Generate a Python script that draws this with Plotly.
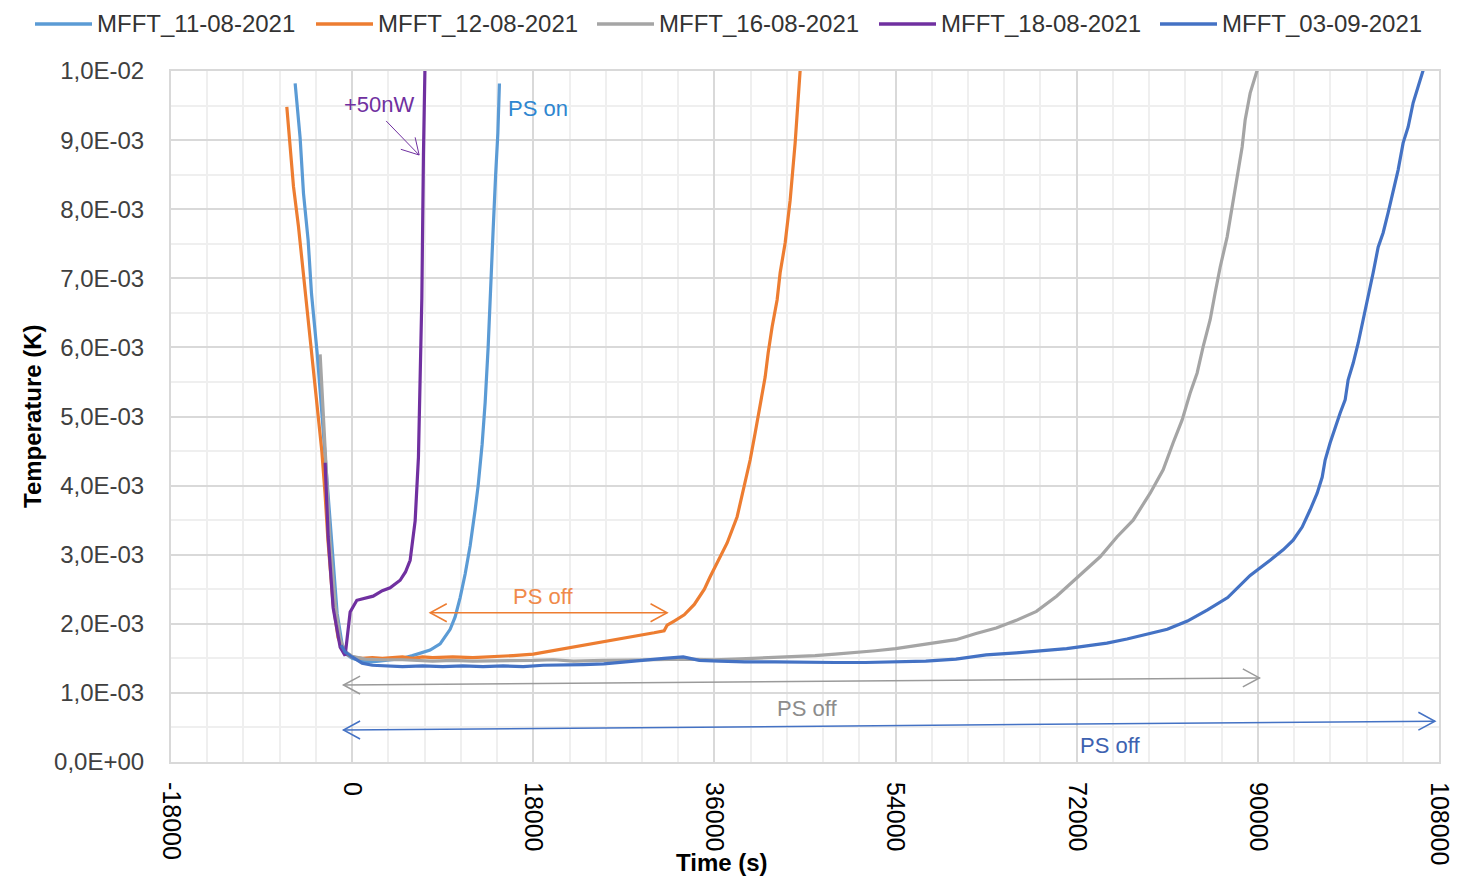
import plotly.graph_objects as go

# ---------------- data ----------------
series_names = ["MFFT_11-08-2021", "MFFT_12-08-2021", "MFFT_16-08-2021",
                "MFFT_18-08-2021", "MFFT_03-09-2021"]

t_11_08 = [-5664, -5167, -4835, -4372, -4040, -3478, -2981, -2484, -1987, -1491, -994, -596,
           0, 1000, 2000, 3000, 4000, 5000, 6000, 7000, 7751, 8745, 9738, 10235, 10732,
           11229, 11726, 12223, 12521, 12919, 13216, 13514, 13813, 14011, 14260, 14480, 14637]
T_11_08 = [0.00982, 0.00903, 0.00823, 0.00755, 0.00678, 0.00592, 0.00500, 0.00400, 0.00300,
           0.00215, 0.00170, 0.00156, 0.00150, 0.00146, 0.00145, 0.00147, 0.00149, 0.00150,
           0.00154, 0.00158, 0.00162, 0.00171, 0.00192, 0.00210, 0.00238, 0.00272, 0.00313,
           0.00365, 0.00400, 0.00460, 0.00520, 0.00600, 0.00690, 0.00770, 0.00850, 0.00910,
           0.00982]

t_12_08 = [-6492, -5830, -5333, -4836, -4339, -4008, -3013, -2700, -2400, -1900, -1400, -900,
           -500, 0, 1000, 2000, 3000, 4000, 5000, 6000, 7000, 8000, 10000, 12000, 14000,
           16000, 18000, 20000, 22000, 24000, 26000, 28000, 30000, 31000, 31300, 32000, 33000,
           34000, 35000, 35574, 36270, 37264, 38257, 38854, 39549, 40046, 40543, 41040, 41338,
           41735, 42232, 42530, 43027, 43524, 44021, 44518]
T_12_08 = [0.00948, 0.00833, 0.00775, 0.00707, 0.00640, 0.00592, 0.00450, 0.00390, 0.00320,
           0.00230, 0.00180, 0.00162, 0.00156, 0.00152, 0.00150, 0.00151, 0.00150, 0.00151,
           0.00152, 0.00150, 0.00152, 0.00151, 0.00152, 0.00151, 0.00152, 0.00154, 0.00156,
           0.00161, 0.00167, 0.00172, 0.00177, 0.00182, 0.00187, 0.00190, 0.00198, 0.00204,
           0.00213, 0.00228, 0.00250, 0.00268, 0.00288, 0.00317, 0.00355, 0.00394, 0.00437,
           0.00476, 0.00514, 0.00557, 0.00592, 0.00630, 0.00669, 0.00708, 0.00751, 0.00813,
           0.00896, 0.01001]

t_16_08 = [-3180, -2900, -2600, -2200, -1700, -1200, -700, 0, 1300, 3000, 5000, 8000, 10000,
           12000, 15000, 18000, 20000, 22000, 25000, 28000, 30000, 33000, 36000, 38000, 40000,
           42000, 44000, 46000, 48000, 50000, 52000, 54000, 56000, 58000, 60000, 62000, 64000,
           66000, 68000, 70000, 72341, 74329, 76018, 77608, 79297, 80589, 81583, 82477, 83272,
           83968, 84564, 85260, 85756, 86253, 86949, 87446, 87943, 88439, 88737, 89234, 89930]
T_16_08 = [0.00590, 0.00520, 0.00430, 0.00320, 0.00230, 0.00178, 0.00160, 0.00153, 0.00149,
           0.00148, 0.00148, 0.00146, 0.00147, 0.00146, 0.00146, 0.00147, 0.00148, 0.00146,
           0.00147, 0.00147, 0.00148, 0.00149, 0.00148, 0.00149, 0.00150, 0.00151, 0.00152,
           0.00154, 0.00156, 0.00158, 0.00161, 0.00164, 0.00168, 0.00172, 0.00177, 0.00186,
           0.00194, 0.00205, 0.00218, 0.00240, 0.00271, 0.00297, 0.00326, 0.00350, 0.00389,
           0.00423, 0.00462, 0.00495, 0.00534, 0.00563, 0.00601, 0.00640, 0.00679, 0.00716,
           0.00760, 0.00803, 0.00847, 0.00890, 0.00929, 0.00968, 0.01001]

t_18_08 = [-2683, -2385, -1888, -1192, -696, -397, -199, 467, 1200, 2087, 3000, 3776, 4770,
           5300, 5763, 6260, 6588, 6757, 6926, 7085, 7254]
T_18_08 = [0.00433, 0.00326, 0.00223, 0.00166, 0.00154, 0.00189, 0.00217, 0.00234, 0.00237,
           0.00240, 0.00248, 0.00252, 0.00263, 0.00275, 0.00292, 0.00349, 0.00441, 0.00556,
           0.00671, 0.00878, 0.01020]

t_03_09 = [-1093, -696, 0, 994, 2000, 3500, 5000, 7000, 9000, 11000, 13000, 15000, 17000,
           19000, 21000, 23000, 25000, 27000, 29000, 31000, 32900, 34500, 36500, 39000, 42000,
           45000, 48000, 51000, 54000, 57000, 60000, 63000, 66000, 69000, 71000, 73000, 75000,
           77000, 79000, 81000, 83000, 85000, 87000, 89234, 91221, 92513, 93507, 94402, 95196,
           95892, 96389, 96687, 97184, 97681, 98178, 98674, 98972, 99469, 99966, 100463,
           100960, 101457, 101953, 102450, 102947, 103444, 103941, 104437, 104934, 105431,
           106425]
T_03_09 = [0.00169, 0.00159, 0.00152, 0.00143, 0.00140, 0.00139, 0.00138, 0.00139, 0.00138,
           0.00139, 0.00138, 0.00139, 0.00138, 0.00140, 0.00140, 0.00141, 0.00142, 0.00145,
           0.00147, 0.00150, 0.00152, 0.00147, 0.00146, 0.00145, 0.00145, 0.00144, 0.00144,
           0.00144, 0.00145, 0.00146, 0.00149, 0.00155, 0.00158, 0.00162, 0.00164, 0.00168,
           0.00172, 0.00178, 0.00185, 0.00192, 0.00204, 0.00220, 0.00238, 0.00270, 0.00292,
           0.00307, 0.00321, 0.00340, 0.00365, 0.00389, 0.00412, 0.00437, 0.00462, 0.00485,
           0.00505, 0.00524, 0.00553, 0.00577, 0.00606, 0.00640, 0.00673, 0.00708, 0.00745,
           0.00766, 0.00795, 0.00828, 0.00857, 0.00896, 0.00919, 0.00954, 0.01001]

x_tick_vals = [-18000, 0, 18000, 36000, 54000, 72000, 90000, 108000]
x_tick_text = ["-18000", "0", "18000", "36000", "54000", "72000", "90000", "108000"]
y_tick_vals = [0.0, 0.001, 0.002, 0.003, 0.004, 0.005, 0.006, 0.007, 0.008, 0.009, 0.010]
y_tick_text = ["0,0E+00", "1,0E-03", "2,0E-03", "3,0E-03", "4,0E-03", "5,0E-03",
               "6,0E-03", "7,0E-03", "8,0E-03", "9,0E-03", "1,0E-02"]

# ---------------- styling ----------------
colors = ["#5B9BD5", "#ED7D31", "#A5A5A5", "#7030A0", "#4472C4"]
FONT = "Liberation Sans"

# figure geometry (page has an 8px body margin)
W, H = 1462, 869
ML, MR, MT, MB = 163, 31, 63, 115
PW, PH = W - ML - MR, H - MT - MB


def px_to_paper(fx, fy):
    return (fx - ML) / PW, (H - MB - fy) / PH


fig = go.Figure()
for name, xs, ys, c in zip(series_names,
                           [t_11_08, t_12_08, t_16_08, t_18_08, t_03_09],
                           [T_11_08, T_12_08, T_16_08, T_18_08, T_03_09], colors):
    fig.add_trace(go.Scatter(x=xs, y=ys, name=name, mode="lines",
                             line=dict(color=c, width=3.2)))

MAJOR = "#D9D9D9"
MINOR = "#EFEFEF"

fig.update_xaxes(range=[-18000, 108000], tickmode="array", tickvals=x_tick_vals,
                 ticktext=x_tick_text, tickangle=90, showgrid=True, gridcolor=MAJOR,
                 gridwidth=2, zeroline=False, showline=True, linecolor=MAJOR, linewidth=2,
                 mirror=True, ticks="", ticklabelstandoff=13,
                 tickfont=dict(family=FONT, size=25, color="#000000"),
                 minor=dict(tick0=0, dtick=3600, showgrid=True, gridcolor=MINOR, gridwidth=2))
fig.update_yaxes(range=[0, 0.01], tickmode="array", tickvals=y_tick_vals,
                 ticktext=y_tick_text, showgrid=True, gridcolor=MAJOR, gridwidth=2,
                 zeroline=False, showline=True, linecolor=MAJOR, linewidth=2, mirror=True,
                 ticks="", ticklabelstandoff=20,
                 tickfont=dict(family=FONT, size=24, color="#404040"),
                 minor=dict(tick0=0, dtick=0.0005, showgrid=True, gridcolor=MINOR, gridwidth=2))

annotations = [
    dict(text="+50nW", x=2683, y=0.00952, font=dict(color="#7030A0", size=22)),
    dict(text="PS on", x=15303, y=0.00946, xanchor="left", font=dict(color="#2E86D0", size=22)),
    dict(text="PS off", x=18980, y=0.0024, font=dict(color="#F08A4B", size=22)),
    dict(text="PS off", x=45213, y=0.00078, font=dict(color="#8C8C8C", size=22)),
    dict(text="PS off", x=75322, y=0.000246, font=dict(color="#3D62B0", size=22)),
]
for a in annotations:
    a.setdefault("xanchor", "center")
    a.update(xref="x", yref="y", yanchor="middle", showarrow=False)
    a["font"]["family"] = FONT
    fig.add_annotation(**a)

# axis titles
tx, ty = px_to_paper(714, 854)
fig.add_annotation(text="<b>Time (s)</b>", xref="paper", yref="paper", x=tx, y=ty,
                   showarrow=False, xanchor="center", yanchor="middle",
                   font=dict(family=FONT, size=24, color="#000000"))
tx, ty = px_to_paper(24, 408)
fig.add_annotation(text="<b>Temperature (K)</b>", xref="paper", yref="paper", x=tx, y=ty,
                   showarrow=False, textangle=-90, xanchor="center", yanchor="middle",
                   font=dict(family=FONT, size=24, color="#000000"))

# legend row drawn above the plot (Excel-style long line samples)
legend_left = [27, 308, 589, 871, 1152]   # figure px where each sample starts
LEG_Y = 16
for name, c, x0 in zip(series_names, colors, legend_left):
    sx0, sy = px_to_paper(x0, LEG_Y)
    sx1, _ = px_to_paper(x0 + 57, LEG_Y)
    fig.add_shape(type="line", xref="paper", yref="paper", x0=sx0, x1=sx1, y0=sy, y1=sy,
                  line=dict(color=c, width=3.5))
    txp, _ = px_to_paper(x0 + 60, LEG_Y)
    fig.add_annotation(text=name, xref="paper", yref="paper", x=txp, y=sy,
                       xanchor="left", yanchor="middle", showarrow=False,
                       font=dict(family=FONT, size=24, color="#333333"))

# double arrows with open heads
AW, AH = 1650, 0.00013
arrows = [
    ((7751, 0.00216), (31302, 0.00216), "#ED7D31"),
    ((-860, 0.001114), (90157, 0.001217), "#9A9A9A"),
    ((-860, 0.000463), (107600, 0.00059), "#4472C4"),
]
for (x0, y0), (x1, y1), c in arrows:
    fig.add_shape(type="line", xref="x", yref="y", x0=x0, y0=y0, x1=x1, y1=y1,
                  line=dict(color=c, width=1.5))
    fig.add_shape(type="path", xref="x", yref="y",
                  path=f"M {x0+AW},{y0+AH} L {x0},{y0} L {x0+AW},{y0-AH}",
                  line=dict(color=c, width=1.5))
    fig.add_shape(type="path", xref="x", yref="y",
                  path=f"M {x1-AW},{y1+AH} L {x1},{y1} L {x1-AW},{y1-AH}",
                  line=dict(color=c, width=1.5))

# +50nW pointer
fig.add_shape(type="line", xref="x", yref="y", x0=3379, y0=0.009277, x1=6658, y1=0.008784,
              line=dict(color="#7030A0", width=1))
fig.add_shape(type="path", xref="x", yref="y",
              path="M 4839,0.008867 L 6658,0.008784 L 6260,0.00904",
              line=dict(color="#7030A0", width=1))

fig.update_layout(
    width=W, height=H, autosize=False,
    margin=dict(l=ML, r=MR, t=MT, b=MB),
    paper_bgcolor="#FFFFFF", plot_bgcolor="#FFFFFF",
    font=dict(family=FONT, color="#262626"),
    showlegend=False,
)

fig.write_html("out.html")
